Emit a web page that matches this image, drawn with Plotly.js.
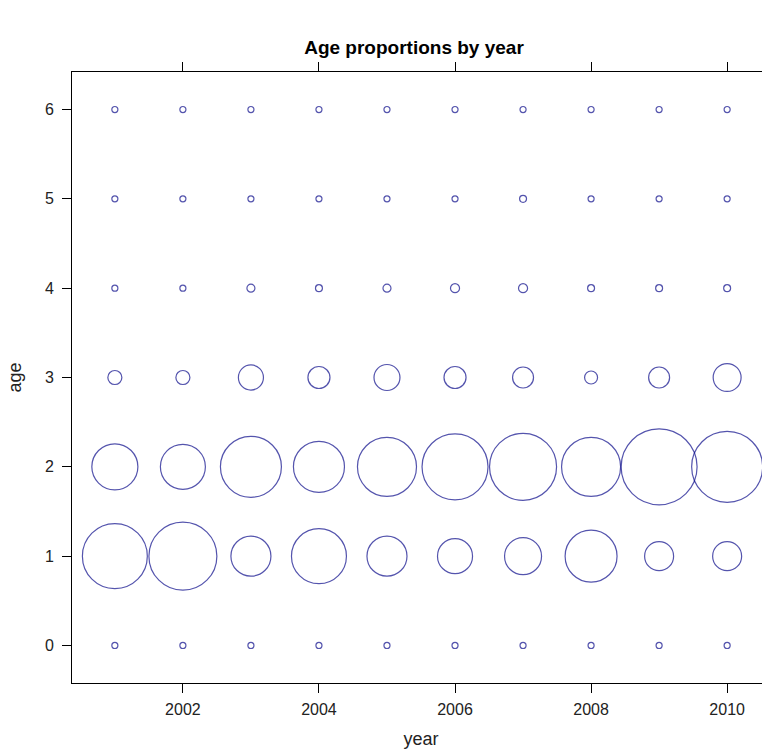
<!DOCTYPE html>
<html>
<head>
<meta charset="utf-8">
<script src="https://cdn.plot.ly/plotly-3.0.1.min.js"></script>
<style>
html, body { margin: 0; padding: 0; overflow: hidden; background: #fff; width: 762px; height: 756px; }
#chart { width: 800px; height: 756px; }
</style>
</head>
<body>
<div id="chart"></div>
<script>
// Data: proportion of each age class per year
var years = [2001, 2002, 2003, 2004, 2005, 2006, 2007, 2008, 2009, 2010];
var ages = [0, 1, 2, 3, 4, 5, 6];
var age0 = [0.040, 0.040, 0.040, 0.040, 0.040, 0.040, 0.040, 0.040, 0.040, 0.040];
var age1 = [0.430, 0.450, 0.265, 0.364, 0.265, 0.232, 0.245, 0.344, 0.192, 0.192];
var age2 = [0.305, 0.298, 0.404, 0.338, 0.391, 0.437, 0.444, 0.391, 0.503, 0.470];
var age3 = [0.093, 0.093, 0.166, 0.146, 0.172, 0.146, 0.139, 0.086, 0.139, 0.185];
var age4 = [0.040, 0.040, 0.053, 0.046, 0.053, 0.060, 0.060, 0.046, 0.046, 0.046];
var age5 = [0.040, 0.040, 0.040, 0.040, 0.040, 0.040, 0.046, 0.040, 0.040, 0.040];
var age6 = [0.040, 0.040, 0.040, 0.040, 0.040, 0.040, 0.040, 0.040, 0.040, 0.040];
var xTicks = [2002, 2004, 2006, 2008, 2010];
var yTicks = [0, 1, 2, 3, 4, 5, 6];

var byAge = [age0, age1, age2, age3, age4, age5, age6];
var xs = [], ys = [], ps = [];
ages.forEach(function (a, i) {
  years.forEach(function (yr, j) {
    xs.push(yr); ys.push(a); ps.push(byAge[i][j]);
  });
});

var trace = {
  type: 'scatter',
  mode: 'markers',
  x: xs,
  y: ys,
  marker: {
    symbol: 'circle-open',
    size: ps,
    sizemode: 'diameter',
    sizeref: 1 / 151,
    color: '#0c0c8a',
    line: { color: '#0c0c8a', width: 1.2 }
  },
  cliponaxis: true,
  hoverinfo: 'x+y'
};

var axisFont = { family: 'Liberation Sans, Arial, sans-serif', size: 16, color: '#222' };

var layout = {
  width: 800,
  height: 756,
  margin: { l: 72, r: 30, t: 72, b: 73 },
  paper_bgcolor: '#fff',
  plot_bgcolor: '#fff',
  showlegend: false,
  title: {
    text: '<b>Age proportions by year</b>',
    font: { family: 'Liberation Sans, Arial, sans-serif', size: 19, color: '#000' },
    x: 0.5175, xanchor: 'center',
    y: 0.938, yanchor: 'middle'
  },
  xaxis: {
    range: [2000.37, 2010.63],
    tickvals: xTicks,
    ticktext: xTicks.map(String),
    ticks: 'outside', ticklen: 9, tickwidth: 1, tickcolor: '#000',
    showline: true, linecolor: '#000', linewidth: 1, mirror: 'ticks',
    showgrid: false, zeroline: false,
    tickfont: axisFont,
    ticklabelstandoff: 3,
    title: { text: 'year', font: { family: 'Liberation Sans, Arial, sans-serif', size: 18, color: '#222' }, standoff: 15 }
  },
  yaxis: {
    range: [-0.42, 6.42],
    tickvals: yTicks,
    ticktext: yTicks.map(String),
    ticks: 'outside', ticklen: 9, tickwidth: 1, tickcolor: '#000',
    showline: true, linecolor: '#000', linewidth: 1, mirror: 'ticks',
    showgrid: false, zeroline: false,
    tickfont: axisFont,
    ticklabelstandoff: 5,
    title: { text: 'age', font: { family: 'Liberation Sans, Arial, sans-serif', size: 18, color: '#222' }, standoff: 18 }
  }
};

Plotly.newPlot('chart', [trace], layout, { displayModeBar: false, staticPlot: true });
</script>
</body>
</html>
